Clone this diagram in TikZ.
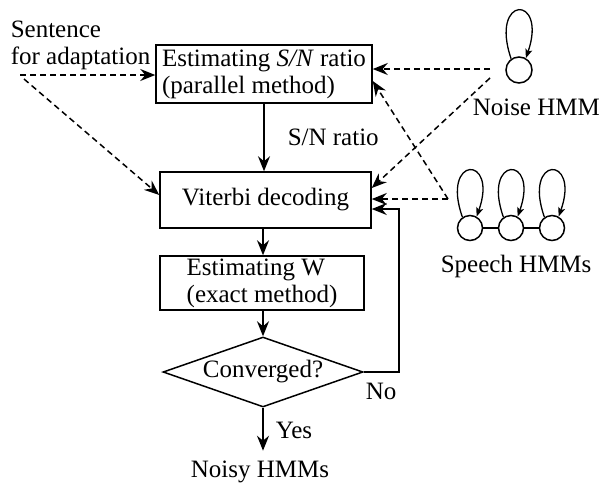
\documentclass[tikz,border=0pt]{standalone}
\usepackage{fontspec}
\setmainfont{Liberation Serif}
\usetikzlibrary{arrows.meta,shapes.geometric}
\begin{document}
\begin{tikzpicture}[x=1pt,y=-1pt,
  font=\fontsize{25}{27}\selectfont,
  line width=1.5pt,
  box/.style={draw, rectangle, inner sep=0pt, align=left},
  flow/.style={-{Stealth[length=15pt,width=12pt,inset=5pt]}},
  dflow/.style={flow, dash pattern=on 6pt off 4pt},
  lbl/.style={inner sep=0pt, anchor=base west},
  state/.style={draw, circle, inner sep=0pt, minimum size=26pt},
  selfloop/.style={-{Stealth[length=9pt,width=7pt,inset=2pt]}, line width=1.3pt}]
\useasboundingbox (0,0) rectangle (601,483);

% main flow
\node[box, minimum width=216pt, minimum height=58pt] (b1) at (264,74) {Estimating \textit{S/N} ratio\\(parallel method)};
\node[box, minimum width=211pt, minimum height=56pt] (b2) at (265.5,200) {Viterbi decoding};
\node[box, minimum width=204pt, minimum height=54pt] (b3) at (262,283) {Estimating W\\(exact method)};
\node[draw, diamond, aspect=2.86, inner sep=0pt, minimum width=200pt, minimum height=70pt] (conv) at (263,372) {Converged?};
\node[inner sep=0pt, anchor=base] (noisy) at (260,477) {Noisy HMMs};

% labels
\node[inner sep=0pt, anchor=north west, align=left] (sent) at (10,20) {Sentence\\for adaptation};
\node[lbl] (snr) at (287,145) {S/N ratio};
\node[lbl] (noiselbl) at (472,115) {Noise HMM};
\node[lbl] (speechlbl) at (440,272) {Speech HMMs};
\node[lbl] (no) at (365,399) {No};
\node[lbl] (yes) at (275,438) {Yes};

% HMMs
\node[state] (nz) at (519,70) {};
\node[state, minimum size=25pt] (sp1) at (470,228) {};
\node[state, minimum size=25pt] (sp2) at (511,228) {};
\node[state, minimum size=25pt] (sp3) at (552,228) {};
\draw (sp1) -- (sp2) -- (sp3);
\draw[selfloop] (nz.125) .. controls +(-22,-64) and +(22,-64) .. (nz.60);
\foreach \s in {sp1,sp2,sp3}
  \draw[selfloop] (\s.125) .. controls +(-22,-62) and +(22,-62) .. (\s.60);

% solid arrows
\draw[flow] (b1.south -| 264,0) -- (b2.north -| 264,0);
\draw[flow] (b2.south -| 263,0) -- (b3.north -| 263,0);
\draw[flow] (b3.south -| 263,0) -- (conv.north);
\draw[flow, shorten >=9pt] (conv.south) -- (conv.south |- noisy.north);
\coordinate (fbx) at (399,0);
\draw[flow] (conv.east) -- (conv.east -| fbx) |- ([yshift=-9pt]b2.east);

% dashed arrows
\coordinate (t1) at (20,75);
\coordinate (t2) at (24,79);
\coordinate (n1) at (490,69);
\coordinate (n2) at (490,78);
\coordinate (s1) at (448,199);
\draw[dflow] (t1) -- (b1.west |- t1);
\draw[dflow] (t2) -- ([yshift=5pt]b2.west);
\draw[dflow] (n1) -- (b1.east |- n1);
\draw[dflow] (s1) -- ([yshift=-7pt]b1.east);
\draw[dflow] (n2) -- ([yshift=12pt]b2.east);
\draw[dflow] (s1) -- (b2.east |- s1);
\end{tikzpicture}
\end{document}
